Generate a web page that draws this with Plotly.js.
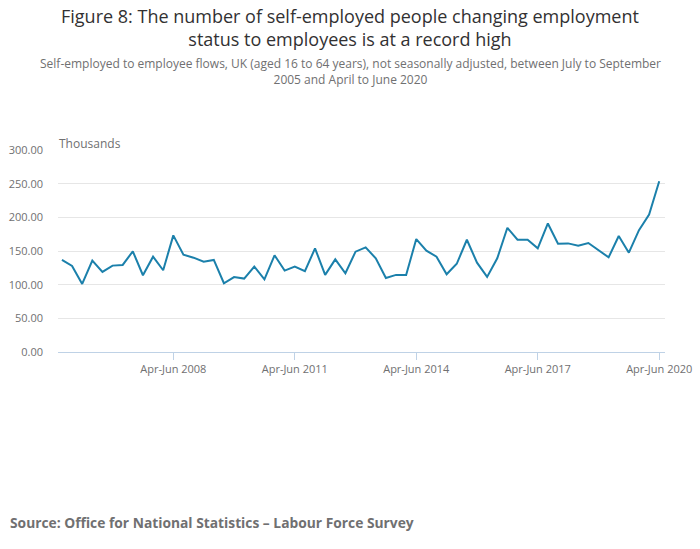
<!DOCTYPE html>
<html>
<head>
<meta charset="utf-8">
<script src="https://cdn.plot.ly/plotly-3.0.1.min.js"></script>
<style>html,body{margin:0;padding:0;background:#fff;}#chart{width:700px;height:549px;}</style>
</head>
<body>
<div id="chart"></div>
<script>
var quarters = [
 "Jul-Sep 2005","Oct-Dec 2005",
 "Jan-Mar 2006","Apr-Jun 2006","Jul-Sep 2006","Oct-Dec 2006",
 "Jan-Mar 2007","Apr-Jun 2007","Jul-Sep 2007","Oct-Dec 2007",
 "Jan-Mar 2008","Apr-Jun 2008","Jul-Sep 2008","Oct-Dec 2008",
 "Jan-Mar 2009","Apr-Jun 2009","Jul-Sep 2009","Oct-Dec 2009",
 "Jan-Mar 2010","Apr-Jun 2010","Jul-Sep 2010","Oct-Dec 2010",
 "Jan-Mar 2011","Apr-Jun 2011","Jul-Sep 2011","Oct-Dec 2011",
 "Jan-Mar 2012","Apr-Jun 2012","Jul-Sep 2012","Oct-Dec 2012",
 "Jan-Mar 2013","Apr-Jun 2013","Jul-Sep 2013","Oct-Dec 2013",
 "Jan-Mar 2014","Apr-Jun 2014","Jul-Sep 2014","Oct-Dec 2014",
 "Jan-Mar 2015","Apr-Jun 2015","Jul-Sep 2015","Oct-Dec 2015",
 "Jan-Mar 2016","Apr-Jun 2016","Jul-Sep 2016","Oct-Dec 2016",
 "Jan-Mar 2017","Apr-Jun 2017","Jul-Sep 2017","Oct-Dec 2017",
 "Jan-Mar 2018","Apr-Jun 2018","Jul-Sep 2018","Oct-Dec 2018",
 "Jan-Mar 2019","Apr-Jun 2019","Jul-Sep 2019","Oct-Dec 2019",
 "Jan-Mar 2020","Apr-Jun 2020"
];
var flows = [
 136.7,127.8,
 101.1,135.7,118.9,128.3,
 129.3,149.5,114.0,141.6,
 121.4,173.2,144.5,140.1,
 134.2,136.7,102.1,111.3,
 109.0,126.8,108.0,143.6,
 120.9,126.8,119.9,153.9,
 114.5,137.6,116.9,149.0,
 155.4,139.1,110.0,114.5,
 114.5,167.7,150.5,141.6,
 115.4,131.0,166.7,132.7,
 111.5,139.1,184.5,166.7,
 166.7,153.9,190.9,160.8,
 161.3,157.9,161.8,151.5,
 140.6,172.2,147.5,181.0,
 204.2,253.6
];
var tickQuarters = ["Apr-Jun 2008","Apr-Jun 2011","Apr-Jun 2014","Apr-Jun 2017","Apr-Jun 2020"];
var yTicks = [0,50,100,150,200,250,300];

var grey = "#707071";
var font = "'Open Sans', sans-serif";

var trace = {
  x: quarters, y: flows, type: "scatter", mode: "lines",
  line: {color: "#1b80ab", width: 2},
  hoverinfo: "x+y"
};

var plotH = 202, plotW = 607, L = 58, T = 150;
function py(pix) { return 1 + (T - pix) / plotH; }
function px(pix) { return (pix - L) / plotW; }

var layout = {
  width: 700, height: 549,
  margin: {l: 58, r: 35, t: 150, b: 197},
  paper_bgcolor: "#fff", plot_bgcolor: "#fff",
  font: {family: font, color: grey, size: 11},
  showlegend: false,
  xaxis: {
    type: "category",
    range: [-0.39, 59.57],
    tickmode: "array",
    tickvals: tickQuarters,
    ticktext: tickQuarters,
    ticks: "outside", ticklen: 7, tickcolor: "#bfd2e6", tickwidth: 1,
    showline: true, linecolor: "#bfd2e6", linewidth: 1,
    showgrid: false, zeroline: false,
    tickfont: {family: font, size: 11, color: grey},
    tickangle: 0, fixedrange: true
  },
  yaxis: {
    range: [0, 300],
    tickmode: "array", tickvals: yTicks,
    tickformat: ".2f",
    showgrid: true, gridcolor: "#e6e6e6", gridwidth: 1,
    zeroline: false, showline: false,
    ticks: "", ticklabelstandoff: 14,
    tickfont: {family: font, size: 11, color: grey},
    fixedrange: true
  },
  annotations: [
    {text: "Figure 8: The number of self-employed people changing employment<br>status to employees is at a record high",
     xref: "paper", yref: "paper", x: px(350), y: py(28), xanchor: "center", yanchor: "middle",
     showarrow: false, font: {family: font, size: 18, color: "#323132"}, align: "center"},
    {text: "Self-employed to employee flows, UK (aged 16 to 64 years), not seasonally adjusted, between July to September<br>2005 and April to June 2020",
     xref: "paper", yref: "paper", x: px(350), y: py(71.5), xanchor: "center", yanchor: "middle",
     showarrow: false, font: {family: font, size: 12, color: grey}, align: "center"},
    {text: "Thousands", xref: "paper", yref: "paper", x: px(57), y: py(143),
     xanchor: "left", yanchor: "middle", showarrow: false,
     font: {family: font, size: 12, color: grey}},
    {text: "<b>Source: Office for National Statistics – Labour Force Survey</b>",
     xref: "paper", yref: "paper", x: px(8), y: py(522),
     xanchor: "left", yanchor: "middle", showarrow: false,
     font: {family: font, size: 13.8, color: grey}}
  ]
};

Plotly.newPlot("chart", [trace], layout, {displayModeBar: false, staticPlot: true});
</script>
</body>
</html>
